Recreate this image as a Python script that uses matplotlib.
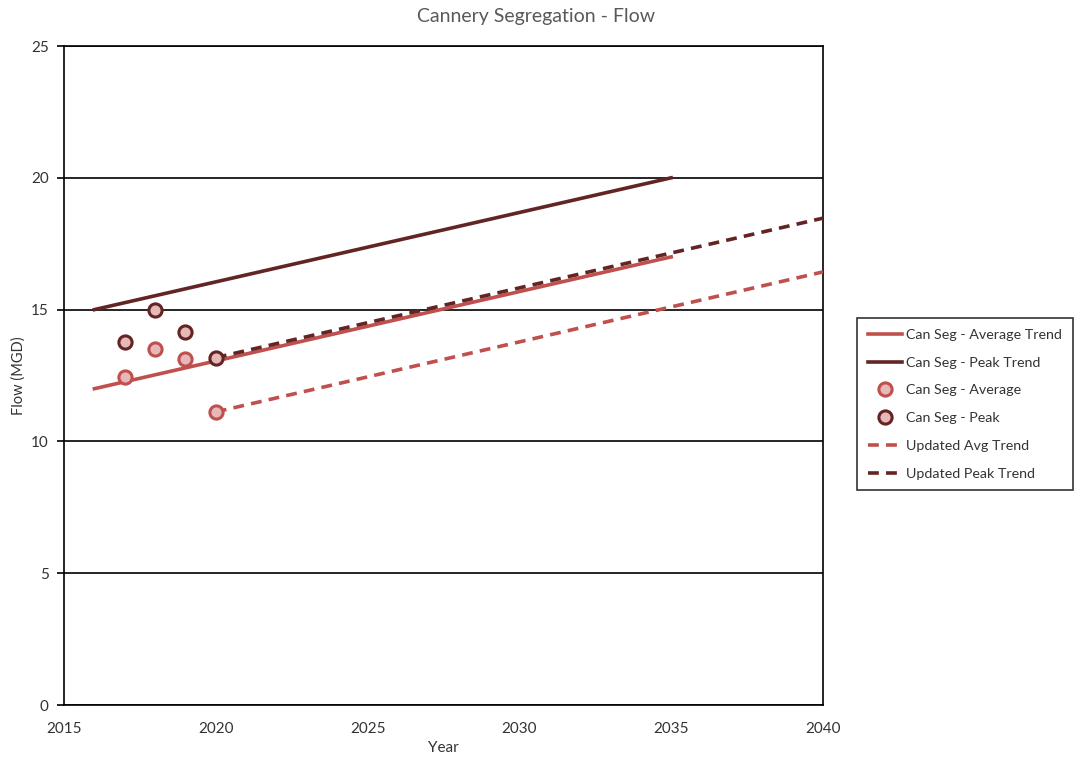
import matplotlib.pyplot as plt

plt.rcParams['font.family'] = ['Lato', 'DejaVu Sans']

# Trend lines (endpoints)
avg_trend_years = [2016, 2035]
avg_trend_flow = [12.0, 17.0]
peak_trend_years = [2016, 2035]
peak_trend_flow = [15.0, 20.0]

# Observed flows
obs_years = [2017, 2018, 2019, 2020]
avg_flow = [12.45, 13.5, 13.13, 11.12]
peak_flow = [13.78, 15.0, 14.15, 13.18]

# Updated trends
upd_years = [2020, 2040]
upd_avg_flow = [11.12, 16.43]
upd_peak_flow = [13.18, 18.47]

red = '#C0504D'
dark = '#632523'
pink = '#E6B9B8'

fig = plt.figure(figsize=(10.82, 7.63), dpi=100)
ax = fig.add_axes([0.0592, 0.076, 0.7014, 0.8637])

ax.plot(avg_trend_years, avg_trend_flow, color=red, lw=2.6,
        label='Can Seg - Average Trend', zorder=3)
ax.plot(peak_trend_years, peak_trend_flow, color=dark, lw=2.6,
        label='Can Seg - Peak Trend', zorder=3)
ax.plot(obs_years, avg_flow, ls='none', marker='o', ms=9.5, mfc=pink,
        mec=red, mew=2.2, label='Can Seg - Average', zorder=4)
ax.plot(obs_years, peak_flow, ls='none', marker='o', ms=9.5, mfc=pink,
        mec=dark, mew=2.2, label='Can Seg - Peak', zorder=4)
ax.plot(upd_years, upd_avg_flow, color=red, lw=2.6, ls=(0, (3, 2)),
        label='Updated Avg Trend', zorder=3)
ax.plot(upd_years, upd_peak_flow, color=dark, lw=2.6, ls=(0, (3, 2)),
        label='Updated Peak Trend', zorder=3)

ax.set_xlim(2015, 2040)
ax.set_ylim(0, 25)
ax.set_xticks(range(2015, 2041, 5))
ax.set_yticks(range(0, 26, 5))
ax.yaxis.grid(True, color='black', lw=1.2)
ax.set_axisbelow(True)
for s in ax.spines.values():
    s.set_color('black')
    s.set_linewidth(1.2)
ax.tick_params(axis='x', length=0, pad=12, labelsize=11, colors='#333333')
ax.tick_params(axis='y', length=5, width=1.2, pad=6, labelsize=11,
               colors='#333333')
ax.tick_params(axis='both', color='black')

ax.set_xlabel('Year', fontsize=11, color='#333333', labelpad=4)
ax.set_ylabel('Flow (MGD)', fontsize=10.5, color='#333333', labelpad=4)
fig.text(0.495, 0.978, 'Cannery Segregation - Flow', ha='center', va='center',
         fontsize=14, color='#595959')

# Legend sits outside the plot, to the right
leg = ax.legend(loc='upper left', bbox_to_anchor=(0.792, 0.583),
                bbox_transform=fig.transFigure, borderaxespad=0,
                fontsize=10.3, frameon=True, fancybox=False,
                edgecolor='black', handlelength=2.4, labelspacing=1.1,
                borderpad=0.75, handletextpad=0.3)
leg.get_frame().set_linewidth(1.2)
for t in leg.get_texts():
    t.set_color('#333333')

fig.savefig('out.png', dpi=100)
